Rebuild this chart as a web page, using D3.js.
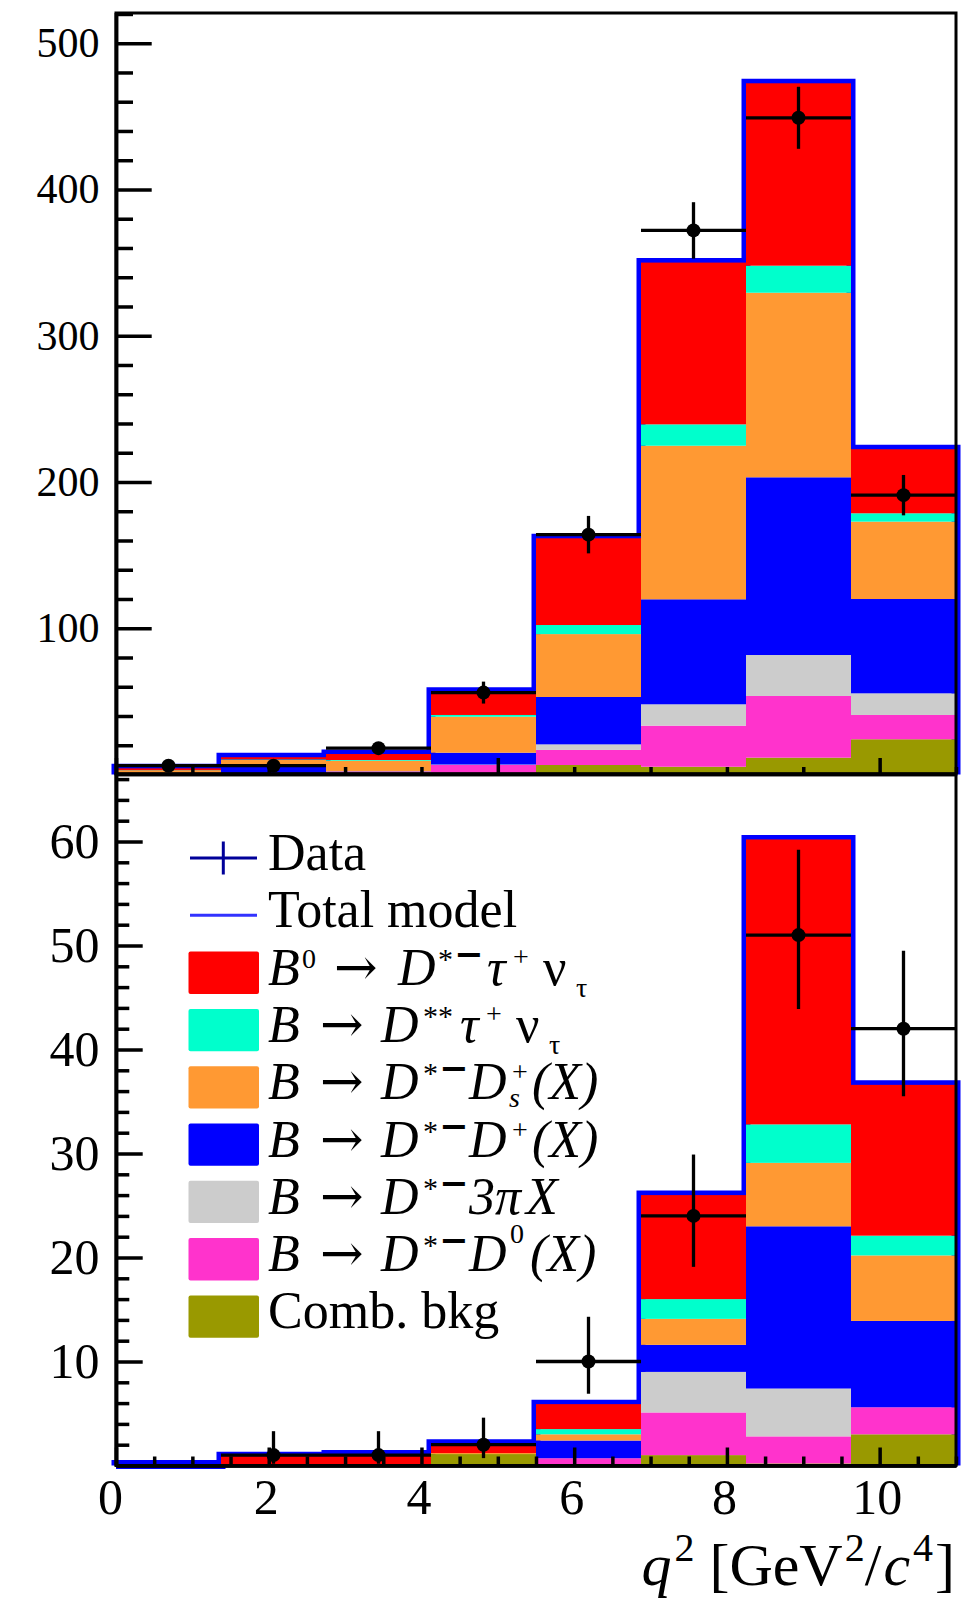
<!DOCTYPE html>
<html><head><meta charset="utf-8">
<script src="https://cdn.jsdelivr.net/npm/d3@7"></script>
<style>body{margin:0;background:#fff}svg{display:block}</style>
</head><body>
<svg id="c" width="973" height="1599"></svg>
<script>
// ---------------- DATA ----------------
const binEdges = [0, 1.375, 2.75, 4.125, 5.5, 6.875, 8.25, 9.625, 11];
const componentKeys = ["comb", "dstD0", "dst3pi", "dstDplus", "dstDs", "dss", "signal"];

// upper panel (per bin)
const topComb     = [0, 0, 0.3, 0.5, 6.5, 5.3, 11.5, 24.1];
const topDstD0    = [0, 0.3, 1.7, 6.0, 10.3, 28.1, 42.2, 16.6];
const topDst3pi   = [0, 0, 0, 0.3, 3.8, 14.6, 28.0, 14.8];
const topDstDplus = [1.0, 5.3, 0.2, 8.1, 32.4, 71.8, 121.5, 64.5];
const topDstDs    = [2.0, 4.5, 7.2, 24.6, 43.0, 105.0, 126.2, 52.9];
const topDss      = [0.1, 0.3, 0.5, 1.2, 6.2, 14.6, 18.5, 5.7];
const topSignal   = [1.1, 1.4, 4.1, 15.8, 59.3, 110.6, 124.7, 43.8];
const topData     = [6, 6, 18, 56, 164, 372, 449, 191];
const topErrLo    = [2.4, 2.4, 4.2, 7.5, 12.8, 19.3, 21.2, 13.8];
const topErrHi    = [2.4, 2.4, 4.2, 7.5, 12.8, 19.3, 21.2, 13.8];

// lower panel (per bin)
const botComb     = [0, 0, 0, 1.1, 0, 1.0, 0.2, 3.0];
const botDstD0    = [0, 0, 0, 0, 0.7, 4.1, 2.6, 2.6];
const botDst3pi   = [0, 0, 0, 0, 0, 3.9, 4.6, 0];
const botDstDplus = [0, 0, 0, 0, 1.7, 2.6, 15.6, 8.3];
const botDstDs    = [0, 0, 0.05, 0.1, 0.6, 2.5, 6.1, 6.3];
const botDss      = [0, 0, 0, 0, 0.5, 1.9, 3.7, 1.9];
const botSignal   = [0.1, 0.9, 1.0, 0.9, 2.4, 10.0, 27.4, 14.5];
const botData     = [null, 1, 1, 2, 10, 24, 51, 42];
const botErrLo    = [0, 0.83, 0.83, 1.29, 3.1, 4.9, 7.1, 6.5];
const botErrHi    = [0, 2.3, 2.3, 2.6, 4.3, 5.9, 8.2, 7.5];

// axis ticks
const topYTicks = [100, 200, 300, 400, 500];
const botYTicks = [10, 20, 30, 40, 50, 60];
const botXTicks = [0, 2, 4, 6, 8, 10];
const topXTicks = [0, 5, 10];
const legendLabels = ["Data", "Total model", "B0 → D*− τ+ ντ", "B → D** τ+ ντ",
  "B → D*− Ds+(X)", "B → D*− D+(X)", "B → D*− 3πX", "B → D*− D0(X)", "Comb. bkg"];

// ---------------- STYLE ----------------
const colors = {comb: "#999900", dstD0: "#ff33cc", dst3pi: "#cccccc", dstDplus: "#0000ff",
  dstDs: "#ff9933", dss: "#00ffcc", signal: "#ff0000"};
const SERIF = "'Liberation Serif','Times New Roman',serif";

const svg = d3.select("#c");
const x = d3.scaleLinear().domain([0, 11]).range([116, 956]);
const yTop = d3.scaleLinear().domain([0, 521]).range([774.5, 12.5]);
const yBot = d3.scaleLinear().domain([0, 66.5]).range([1465.5, 773.9]);

function buildRows(arrs) {
  return binEdges.slice(0, -1).map((e, i) => {
    const r = {x0: e, x1: binEdges[i + 1]};
    componentKeys.forEach((k, j) => r[k] = arrs[j][i]);
    return r;
  });
}
const topRows = buildRows([topComb, topDstD0, topDst3pi, topDstDplus, topDstDs, topDss, topSignal]);
const botRows = buildRows([botComb, botDstD0, botDst3pi, botDstDplus, botDstDs, botDss, botSignal]);

function drawHist(y, rows) {
  const g = svg.append("g");
  const totals = rows.map(r => componentKeys.reduce((s, k) => s + r[k], 0));
  let d = `M${x(rows[0].x0)},${y(0)}`;
  rows.forEach((r, i) => { d += `V${y(totals[i])}H${x(r.x1)}`; });
  d += `V${y(0)}`;
  g.append("path").attr("d", d).attr("fill", "none").attr("stroke", "#0000ff")
    .attr("stroke-width", 9).attr("stroke-linejoin", "miter");
  const stacked = d3.stack().keys(componentKeys)(rows);
  stacked.forEach(layer => {
    g.append("g").selectAll("rect").data(layer).join("rect")
      .attr("x", dd => x(dd.data.x0)).attr("width", dd => x(dd.data.x1) - x(dd.data.x0))
      .attr("y", dd => y(dd[1])).attr("height", dd => Math.max(0, y(dd[0]) - y(dd[1])))
      .attr("fill", colors[layer.key]);
  });
}

function drawData(y, vals, lo, hi) {
  const g = svg.append("g").attr("stroke", "#000").attr("stroke-width", 3.3);
  vals.forEach((v, i) => {
    if (v === null) return;
    const cx = x((binEdges[i] + binEdges[i + 1]) / 2);
    g.append("line").attr("x1", cx).attr("x2", cx).attr("y1", y(v - lo[i])).attr("y2", y(v + hi[i]));
    g.append("line").attr("x1", x(binEdges[i])).attr("x2", x(binEdges[i + 1])).attr("y1", y(v)).attr("y2", y(v));
    g.append("circle").attr("cx", cx).attr("cy", y(v)).attr("r", 7).attr("fill", "#000").attr("stroke", "none");
  });
}

function styleAxis(sel, fs) {
  sel.selectAll("path.domain").attr("stroke", "#000").attr("stroke-width", 3.5);
  sel.selectAll(".tick line").attr("stroke", "#000").attr("stroke-width", 3.5);
  sel.selectAll("text").attr("font-family", SERIF).attr("font-size", fs).attr("fill", "#000");
}

// ---- panels ----
drawHist(yTop, topRows);
drawHist(yBot, botRows);

svg.append("rect").attr("x", 116).attr("y", 13).attr("width", 840).attr("height", 761)
  .attr("fill", "none").attr("stroke", "#000").attr("stroke-width", 3);
svg.append("rect").attr("x", 116).attr("y", 774).attr("width", 840).attr("height", 691.5)
  .attr("fill", "none").attr("stroke", "#000").attr("stroke-width", 3);

// top panel axes
const topMinorY = d3.range(20, 521, 20).filter(v => v % 100 !== 0);
svg.append("g").attr("transform", "translate(116,0)")
  .call(d3.axisLeft(yTop).tickValues(topMinorY).tickSize(-17).tickSizeOuter(0).tickFormat(""))
  .call(s => styleAxis(s, 42));
svg.append("g").attr("transform", "translate(116,0)")
  .call(d3.axisLeft(yTop).tickValues(topYTicks).tickSize(-35.7).tickSizeOuter(0).tickPadding(16.5).tickFormat(d3.format("d")))
  .call(s => styleAxis(s, 42));
const topMinorX = d3.range(1, 12, 1).filter(v => v % 5 !== 0);
svg.append("g").attr("transform", "translate(0,774)")
  .call(d3.axisBottom(x).tickValues(topMinorX).tickSize(-7).tickSizeOuter(0).tickFormat(""))
  .call(s => styleAxis(s, 42));
svg.append("g").attr("transform", "translate(0,774)")
  .call(d3.axisBottom(x).tickValues(topXTicks).tickSize(-16).tickSizeOuter(0).tickFormat(""))
  .call(s => styleAxis(s, 42));

// bottom panel axes
const botMinorY = d3.range(2, 67, 2).filter(v => v % 10 !== 0);
svg.append("g").attr("transform", "translate(116,0)")
  .call(d3.axisLeft(yBot).tickValues(botMinorY).tickSize(-13.3).tickSizeOuter(0).tickFormat(""))
  .call(s => styleAxis(s, 50));
svg.append("g").attr("transform", "translate(116,0)")
  .call(d3.axisLeft(yBot).tickValues(botYTicks).tickSize(-26.7).tickSizeOuter(0).tickPadding(16.5).tickFormat(d3.format("d")))
  .call(s => styleAxis(s, 50));
const botMinorX = d3.range(0.5, 11.01, 0.5).filter(v => v % 2 !== 0);
svg.append("g").attr("transform", "translate(0,1465.5)")
  .call(d3.axisBottom(x).tickValues(botMinorX).tickSize(-9).tickSizeOuter(0).tickFormat(""))
  .call(s => styleAxis(s, 50));
const bx = svg.append("g").attr("transform", "translate(0,1465.5)")
  .call(d3.axisBottom(x).tickValues(botXTicks).tickSize(-18).tickSizeOuter(0).tickPadding(13).tickFormat(d3.format("d")))
  .call(s => styleAxis(s, 50));
bx.selectAll(".tick text").attr("dx", d => d === 0 ? -6 : -3);

// data points
drawData(yTop, topData, topErrLo, topErrHi);
drawData(yBot, botData, botErrLo, botErrHi);

// x axis title
const xt = svg.append("text").attr("x", 955).attr("y", 1585).attr("text-anchor", "end")
  .attr("font-family", SERIF).attr("font-size", 60).attr("fill", "#000");
xt.append("tspan").attr("font-style", "italic").text("q");
xt.append("tspan").attr("font-size", 40).attr("dy", -24).attr("dx", 3).text("2");
xt.append("tspan").attr("dy", 24).text(" [GeV");
xt.append("tspan").attr("font-size", 40).attr("dy", -24).attr("dx", 2).text("2");
xt.append("tspan").attr("dy", 24).text("/");
xt.append("tspan").attr("font-style", "italic").attr("dx", 2).text("c");
xt.append("tspan").attr("font-size", 40).attr("dy", -24).attr("dx", 3).text("4");
xt.append("tspan").attr("dy", 24).attr("dx", 2).text("]");

// ---------------- LEGEND ----------------
const M = 52, S = 28;
const ARROWF = "'DejaVu Serif',serif", MINUSF = "'DejaVu Sans',sans-serif";
// piece: text, x, dy from baseline, size, italic, bold, font
const P = (t, x0, dy, s, it, b, f) => ({t, x0, dy, s, it, b, f});
const star = P("*", 423, -16, 30, 0);
const minus = P("\u2212", 439, -19, 35, 0, 1, MINUSF);
const pre = [P("B", 268, 0, M, 1), P("\u2192", 320, 0, M, 0, 0, ARROWF), P("D", 381, 0, M, 1)];
const legendPieces = [
  null, null,
  [P("B", 268, 0, M, 1), P("0", 302, -17, S, 0), P("\u2192", 334, 0, M, 0, 0, ARROWF), P("D", 398, 0, M, 1),
   P("*", 438, -16, 30, 0), P("\u2212", 454, -19, 35, 0, 1, MINUSF), P("\u03c4", 487, 0, M, 1),
   P("+", 513, -19, S, 0), P("\u03bd", 543, 0, M, 0), P("\u03c4", 576, 12, S, 0)],
  [...pre, P("**", 423, -16, 30, 0), P("\u03c4", 460, 0, M, 1), P("+", 486, -19, S, 0),
   P("\u03bd", 516, 0, M, 0), P("\u03c4", 549, 12, S, 0)],
  [...pre, star, minus, P("D", 469, 0, M, 1), P("+", 512, -18, S, 0), P("s", 509, 8, S, 1), P("(X)", 532, 0, M, 1)],
  [...pre, star, minus, P("D", 469, 0, M, 1), P("+", 512, -18, S, 0), P("(X)", 532, 0, M, 1)],
  [...pre, star, minus, P("3", 469, 0, M, 1), P("\u03c0", 495, 0, M, 1), P("X", 526, 0, M, 1)],
  [...pre, star, minus, P("D", 469, 0, M, 1), P("0", 510, -28, S, 0), P("(X)", 530, 0, M, 1)],
  null
];
const legendColorKeys = [null, null, "signal", "dss", "dstDs", "dstDplus", "dst3pi", "dstD0", "comb"];
const lg = svg.append("g");
legendLabels.forEach((lab, i) => {
  const cy = 858 + 57.3 * i;
  const base = cy + 12;
  if (i === 0) {
    lg.append("line").attr("x1", 190).attr("x2", 257).attr("y1", cy).attr("y2", cy).attr("stroke", "#000099").attr("stroke-width", 3);
    lg.append("line").attr("x1", 223.3).attr("x2", 223.3).attr("y1", cy - 16.5).attr("y2", cy + 16.5).attr("stroke", "#000099").attr("stroke-width", 3);
  } else if (i === 1) {
    lg.append("line").attr("x1", 190).attr("x2", 257).attr("y1", cy).attr("y2", cy).attr("stroke", "#3333ff").attr("stroke-width", 3);
  } else {
    lg.append("rect").attr("x", 188.5).attr("y", cy - 21).attr("width", 70.5).attr("height", 42.3)
      .attr("rx", 2).attr("fill", colors[legendColorKeys[i]]);
  }
  const pieces = legendPieces[i] || [P(lab, 268, 0, M, 0)];
  pieces.forEach(p => {
    lg.append("text").attr("x", p.x0).attr("y", base + p.dy)
      .attr("font-family", p.f || SERIF).attr("font-size", p.s)
      .attr("font-style", p.it ? "italic" : "normal").attr("font-weight", p.b ? "bold" : "normal")
      .attr("fill", "#000").text(p.t);
  });
});
</script>
</body></html>
